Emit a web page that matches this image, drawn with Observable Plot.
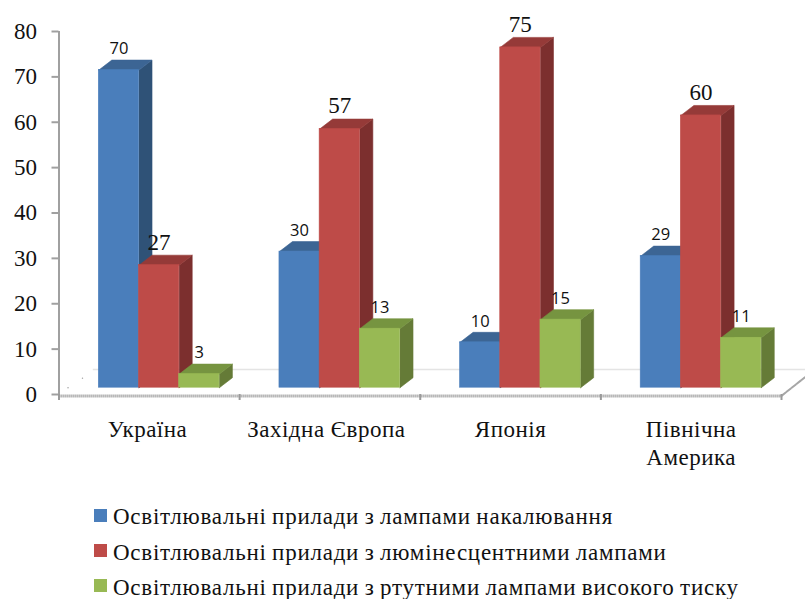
<!DOCTYPE html>
<html><head><meta charset="utf-8">
<script src="https://cdn.jsdelivr.net/npm/d3@7"></script>
<script src="https://cdn.jsdelivr.net/npm/@observablehq/plot@0.6"></script>
<style>
html,body{margin:0;padding:0;background:#fff}
#legend{font-family:"Liberation Serif",serif;font-size:23px;color:#111;position:relative;height:109px}
.row{position:absolute;left:94px;display:flex;align-items:center;white-space:pre;word-spacing:-1px;letter-spacing:.75px}
.sw{width:13px;height:13px;margin-right:6px;position:relative;top:-2px}
</style></head><body>
<div id="chart"></div><div id="legend"></div>
<script>
const categories = ["Україна","Західна Європа","Японія","Північна\nАмерика"];
const incandescent = [70,30,10,29];
const fluorescent = [27,57,75,60];
const mercury = [3,13,15,11];
const seriesNames = ["Освітлювальні прилади з лампами накалювання","Освітлювальні прилади з люмінесцентними лампами","Освітлювальні прилади з ртутними лампами високого тиску"];
const frontColors = ["#4A7EBB","#BE4B48","#98B954"];
const sideColors = ["#2F5277","#7C2F2E","#657B37"];
const topColors = ["#3C6594","#953A38","#769440"];
const serifLabelSeries = [false,true,false];
const yTicks = [0,10,20,30,40,50,60,70,80];
const xTicks = [0,1,2,3,4];

const barW = 0.2225, gapL = 0.2205, depthX = 0.072, depthY = 2.2, floor = 1.5;
const series = [incandescent,fluorescent,mercury];
const bars = series.flatMap((vals,s)=>vals.map((v,c)=>{
  const x1 = c+gapL+s*barW, x2 = x1+barW;
  return {s,c,v,x1,x2,y1:floor,y2:floor+v,mid:(x1+x2)/2};
}));
const poly = (pts,fill)=>Plot.line([...pts,pts[0]].map(([x,y])=>({x,y})),{x:"x",y:"y",fill,stroke:fill,strokeWidth:0.6,curve:"linear"});
const spaced = (i,s,v,d,c,next)=>{const g=next(i,s,v,d,c);g.style.letterSpacing="0.5px";return g;};

const marks = [
  Plot.ruleY([5.5],{x1:0.19,x2:4.14,stroke:"#e4e4e4",strokeWidth:1.6}),
  Plot.line([{x:4,y:-0.3},{x:4.13,y:3.8}],{x:"x",y:"y",stroke:"#a6a6a6",strokeWidth:2,strokeDasharray:"5 1.5"}),
  Plot.dot([{x:0.13,y:3.6},{x:0.05,y:1.5}],{x:"x",y:"y",r:0.7,fill:"#999"}),
  Plot.ruleY([0],{x1:0,x2:4,stroke:"#9a9a9a",strokeWidth:3,strokeDasharray:"1.2 0.8",dy:1.5}),
  Plot.ruleX([0],{y1:0,y2:80,stroke:"#a0a0a0",strokeWidth:2}),
];
for(const b of bars){
  const {x1,x2,y1,y2,s}=b;
  marks.push(poly([[x2,y1],[x2+depthX,y1+depthY],[x2+depthX,y2+depthY],[x2,y2]],sideColors[s]));
  marks.push(poly([[x1,y2],[x1+depthX,y2+depthY],[x2+depthX,y2+depthY],[x2,y2]],topColors[s]));
  marks.push(Plot.rect([b],{x1:"x1",x2:"x2",y1:"y1",y2:"y2",fill:frontColors[s],stroke:frontColors[s],strokeWidth:0.6}));
}
marks.push(Plot.text(bars.filter(b=>!serifLabelSeries[b.s]),{x:"mid",y:"y2",text:"v",dy:-21,fontFamily:"Open Sans",fontSize:16.5,fill:"#111"}));
marks.push(Plot.text(bars.filter(b=>serifLabelSeries[b.s]),{x:"mid",y:"y2",text:"v",dy:-23,fontFamily:"Liberation Serif",fontSize:23,fill:"#111"}));
marks.push(Plot.text(categories,{x:(d,i)=>i+0.5-(i==0?0.01:i==1?0.02:0),y:0,text:d=>d,dy:23,lineAnchor:"top",lineHeight:1.22,fontFamily:"Liberation Serif",fontSize:23,fill:"#111",render:spaced}));
marks.push(Plot.axisY(yTicks,{anchor:"left",tickSize:7,tickPadding:15,stroke:"#a0a0a0",strokeWidth:2,fontFamily:"Liberation Serif",fontSize:23,fill:"#111",label:null}));
marks.push(Plot.axisX(xTicks,{anchor:"bottom",tickSize:6,tickFormat:()=>"",stroke:"#9a9a9a",strokeWidth:2,label:null}));

const chart = Plot.plot({
  width:805,height:490,marginTop:31,marginBottom:96,marginLeft:58.5,marginRight:24,
  style:{background:"#fff",overflow:"visible"},
  x:{type:"linear",domain:[0,4]},
  y:{domain:[0,80]},
  marks
});
document.getElementById("chart").appendChild(chart);
const legend = document.getElementById("legend");
const tops = [14,49.5,84.5];
seriesNames.forEach((n,i)=>{
  const r=document.createElement("div");r.className="row";r.style.top=tops[i]+"px";
  const s=document.createElement("span");s.className="sw";s.style.background=frontColors[i];
  const t=document.createElement("span");t.textContent=n;
  r.append(s,t);legend.append(r);
});
</script></body></html>
